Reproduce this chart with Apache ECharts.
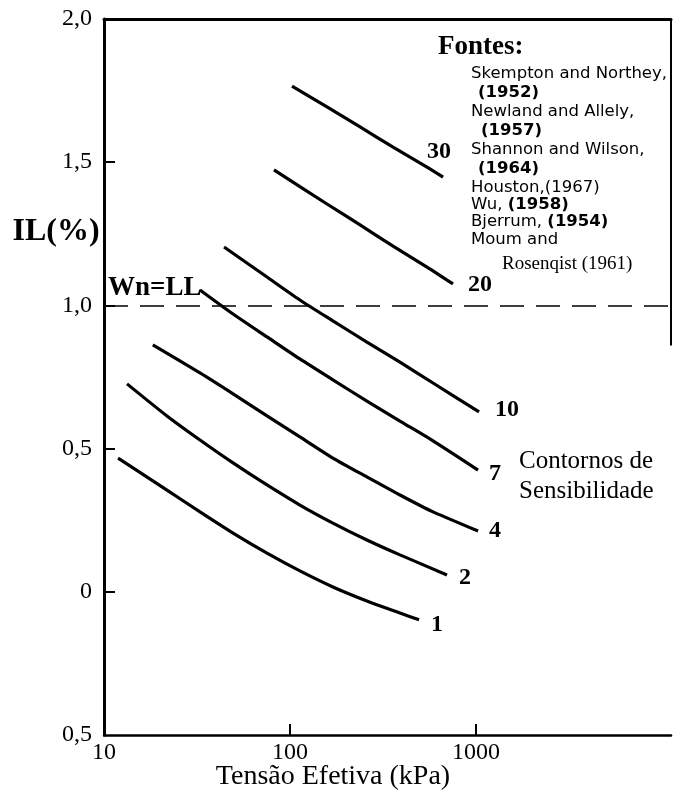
<!DOCTYPE html>
<html>
<head>
<meta charset="utf-8">
<script src="https://cdn.jsdelivr.net/npm/echarts@6/dist/echarts.min.js"></script>
<style>
  html, body { margin: 0; padding: 0; background: #fff; }
  #chart { width: 673px; height: 793px; }
</style>
</head>
<body>
<div id="chart"></div>
<script>
// Axis ranges and tick labels
const xMin = 10;
const xMax = 11170;
const xTickValues = [10, 100, 1000];
const yTickValues = [-0.5, 0, 0.5, 1.0, 1.5, 2.0];
const yTickLabels = ['0,5', '0', '0,5', '1,0', '1,5', '2,0'];
const wnLL = 1.0;

// Sensitivity contours: [effective stress (kPa), liquidity index]
const contour1 = [[11.9, 0.467], [21.8, 0.355], [32.8, 0.279], [49.4, 0.205], [75.2, 0.135], [113, 0.073], [170, 0.017], [259, -0.032], [390, -0.074], [494, -0.098]];
const contour2 = [[13.3, 0.726], [21.8, 0.614], [32.8, 0.530], [49.4, 0.450], [75.2, 0.373], [113, 0.303], [170, 0.240], [259, 0.181], [390, 0.129], [698, 0.059]];
const contour4 = [[18.3, 0.862], [32.8, 0.764], [49.4, 0.691], [75.2, 0.614], [113, 0.541], [170, 0.467], [259, 0.401], [390, 0.338], [587, 0.279], [1025, 0.212]];
const contour7 = [[32.8, 1.054], [49.4, 0.970], [75.2, 0.890], [113, 0.813], [170, 0.740], [259, 0.666], [390, 0.596], [587, 0.527], [1025, 0.425]];
const contour10 = [[44.2, 1.204], [75.2, 1.099], [113, 1.019], [170, 0.946], [259, 0.872], [390, 0.802], [587, 0.729], [1038, 0.628]];
const contour20 = [[82, 1.473], [158, 1.354], [238, 1.281], [358, 1.207], [545, 1.134], [752, 1.075]];
const contour30 = [[102.5, 1.766], [158, 1.693], [238, 1.623], [358, 1.553], [545, 1.483], [665, 1.448]];

const contourNames = ['1', '2', '4', '7', '10', '20', '30'];
const contours = [contour1, contour2, contour4, contour7, contour10, contour20, contour30];
const labelOffsets = [[4, 5], [4, 3], [3, 0], [3, 4], [8, -2], [7, 1], [-24, -25]];

const fontSources = [
  { t: 'Skempton and Northey,', x: 471, y: 74 },
  { t: '{b|(1952)}', x: 478, y: 93 },
  { t: 'Newland and Allely,', x: 471, y: 112 },
  { t: '{b|(1957)}', x: 481, y: 131 },
  { t: 'Shannon and Wilson,', x: 471, y: 150 },
  { t: '{b|(1964)}', x: 478, y: 169 },
  { t: 'Houston,(1967)', x: 471, y: 188 },
  { t: 'Wu, {b|(1958)}', x: 471, y: 205 },
  { t: 'Bjerrum, {b|(1954)}', x: 471, y: 222 },
  { t: 'Moum and', x: 471, y: 240 }
];

const serif = '"Liberation Serif", "Times New Roman", Times, serif';
const sans = '"DejaVu Sans", "Liberation Sans", Arial, sans-serif';

const chart = echarts.init(document.getElementById('chart'), null, { renderer: 'canvas' });

const series = contours.map((pts, i) => ({
  type: 'line',
  name: contourNames[i],
  data: pts,
  smooth: 0.25,
  symbol: 'none',
  lineStyle: { color: '#000', width: 3.2 },
  endLabel: {
    show: true,
    formatter: contourNames[i],
    offset: labelOffsets[i],
    color: '#000',
    fontFamily: serif,
    fontWeight: 'bold',
    fontSize: 24
  },
  z: 3
}));

// W = LL reference line
series.push({
  type: 'line',
  data: [],
  markLine: {
    silent: true,
    symbol: 'none',
    label: { show: false },
    lineStyle: { color: '#000', width: 1.5, type: [24, 12] },
    data: [{ yAxis: wnLL }]
  }
});

// Right frame segment at the top of the plot
series.push({
  type: 'line',
  data: [[xMax, 2.0], [xMax, 0.86]],
  symbol: 'none',
  clip: false,
  lineStyle: { color: '#000', width: 2 },
  z: 4
});

const graphicTexts = [
  { type: 'text', x: 56, y: 232, style: { text: 'IL(%)', font: 'bold 32px ' + serif, fill: '#000', textAlign: 'center', textVerticalAlign: 'middle' } },
  { type: 'text', x: 108, y: 288, style: { text: 'Wn=LL', font: 'bold 27px ' + serif, fill: '#000', textAlign: 'left', textVerticalAlign: 'middle' } },
  { type: 'text', x: 333, y: 777, style: { text: 'Tensão Efetiva (kPa)', font: '28px ' + serif, fill: '#000', textAlign: 'center', textVerticalAlign: 'middle' } },
  { type: 'text', x: 438, y: 47, style: { text: 'Fontes:', font: 'bold 27px ' + serif, fill: '#000', textAlign: 'left', textVerticalAlign: 'middle' } },
  { type: 'text', x: 502, y: 264, style: { text: 'Rosenqist (1961)', font: '19px ' + serif, fill: '#000', textAlign: 'left', textVerticalAlign: 'middle' } },
  { type: 'text', x: 519, y: 461, style: { text: 'Contornos de', font: '25px ' + serif, fill: '#000', textAlign: 'left', textVerticalAlign: 'middle' } },
  { type: 'text', x: 519, y: 491, style: { text: 'Sensibilidade', font: '25px ' + serif, fill: '#000', textAlign: 'left', textVerticalAlign: 'middle' } }
].concat(fontSources.map(s => ({
  type: 'text', x: s.x, y: s.y,
  style: {
    text: s.t,
    font: '16.5px ' + sans,
    fill: '#000',
    textAlign: 'left',
    textVerticalAlign: 'middle',
    rich: { b: { fontWeight: 'bold', fontSize: 16.5, fontFamily: sans, fill: '#000' } }
  }
})));

chart.setOption({
  animation: false,
  backgroundColor: '#fff',
  grid: { left: 104, right: 2, top: 19, bottom: 58, containLabel: false },
  xAxis: [
    {
      type: 'log',
      logBase: 10,
      min: xMin,
      max: xMax,
      position: 'bottom',
      axisLine: { show: true, onZero: false, lineStyle: { color: '#000', width: 2.5 } },
      axisTick: { show: true, inside: true, length: 11, lineStyle: { color: '#000', width: 2 }, customValues: [100, 1000] },
      minorTick: { show: false },
      splitLine: { show: false },
      axisLabel: {
        show: true, customValues: xTickValues, margin: 6,
        color: '#000', fontFamily: serif, fontSize: 24,
        formatter: v => String(Math.round(v))
      }
    },
    {
      type: 'log',
      logBase: 10,
      min: xMin,
      max: xMax,
      position: 'top',
      axisLine: { show: true, onZero: false, lineStyle: { color: '#000', width: 3 } },
      axisTick: { show: false },
      axisLabel: { show: false },
      splitLine: { show: false }
    }
  ],
  yAxis: {
    type: 'value',
    min: -0.5,
    max: 2.0,
    interval: 0.5,
    axisLine: { show: true, onZero: false, lineStyle: { color: '#000', width: 3 } },
    axisTick: { show: true, inside: true, length: 11, lineStyle: { color: '#000', width: 2 }, customValues: [0, 0.5, 1.0, 1.5] },
    splitLine: { show: false },
    axisLabel: {
      margin: 12, color: '#000', fontFamily: serif, fontSize: 24,
      formatter: v => {
        const idx = yTickValues.findIndex(t => Math.abs(t - v) < 1e-9);
        return idx >= 0 ? yTickLabels[idx] : '';
      }
    }
  },
  graphic: graphicTexts,
  series: series
});
</script>
</body>
</html>
